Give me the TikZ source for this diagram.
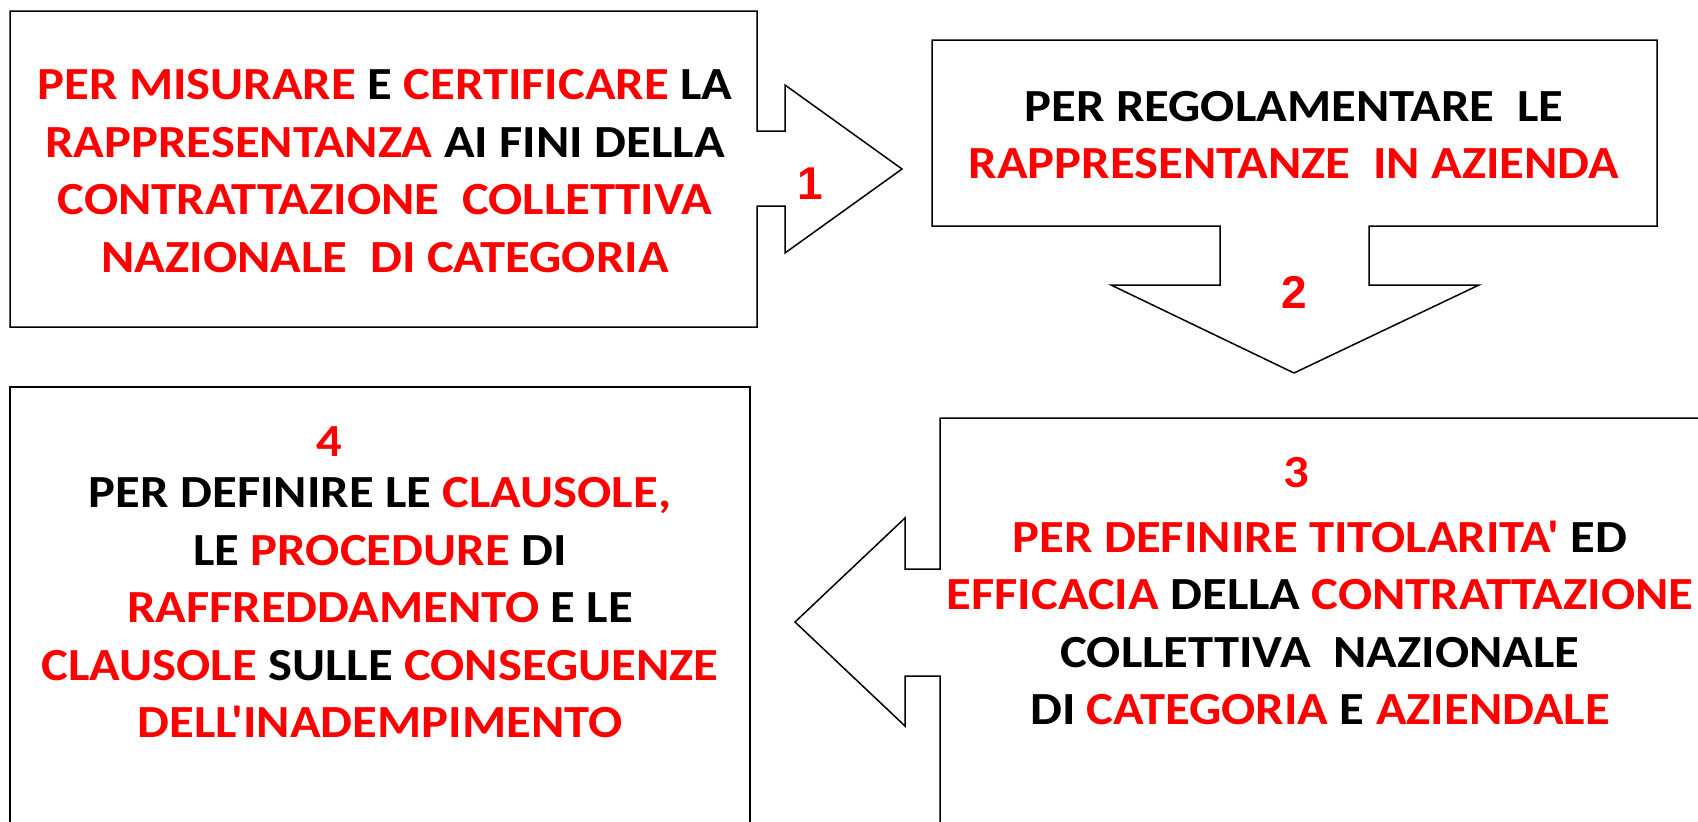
\documentclass[tikz,border=0pt]{standalone}
\usepackage{fontspec}
\setmainfont[FakeStretch=1.1, Ligatures=TeXOff]{Carlito}
\newfontfamily\numfont{Liberation Sans}
\definecolor{rosso}{RGB}{255,0,0}
\newcommand\rs[1]{\textcolor{rosso}{#1}}

\begin{document}
\begin{tikzpicture}[x=1pt,y=-1pt]
\tikzset{
  cornice/.style={draw=black, line width=1.5pt, line join=miter, fill=white},
  testo/.style={align=center, inner sep=0pt, font=\fontsize{46}{57.5}\selectfont\bfseries},
  numero/.style={text=rosso, inner sep=0pt, font=\numfont\fontsize{46}{46}\selectfont\bfseries},
  cifra/.style={text=rosso, inner sep=0pt, font=\fontsize{46}{46}\selectfont\bfseries},
}
\useasboundingbox (0,0) rectangle (1698,822);

% riquadro 1, freccia verso destra
\draw[cornice] (10,11) -- (757,11) -- (757,131) -- (785,131) -- (785,85) -- (902,169)
  -- (785,253) -- (785,206) -- (757,206) -- (757,327) -- (10,327) -- cycle;
% riquadro 2, freccia verso il basso
\draw[cornice] (932,40) -- (1657,40) -- (1657,226) -- (1369,226) -- (1369,285) -- (1479,285)
  -- (1294,373) -- (1111,285) -- (1220,285) -- (1220,226) -- (932,226) -- cycle;
% riquadro 3, freccia verso sinistra (tagliato a destra e in basso)
\draw[cornice] (1710,418) -- (940,418) -- (940,569) -- (905,569) -- (905,518) -- (795,622)
  -- (905,726) -- (905,676) -- (940,676) -- (940,835);
% riquadro 4 (tagliato in basso)
\draw[cornice] (10,835) -- (10,387) -- (750,387) -- (750,835);

\node[testo] (t1) at (385,171) {\rs{PER MISURARE} E \rs{CERTIFICARE} LA\\
  \rs{RAPPRESENTANZA} AI FINI DELLA\\
  \rs{CONTRATTAZIONE~ COLLETTIVA}\\
  \rs{NAZIONALE~ DI CATEGORIA}};
\node[numero] (n1) at (810,184) {1};

\node[testo] (t2) at (1294,135) {PER REGOLAMENTARE~ LE\\
  \rs{RAPPRESENTANZE~ IN AZIENDA}};
\node[numero] (n2) at (1294,292) {2};

\node[cifra] (n3) at (1296,473) {3};
\node[testo] (t3) at (1320,623) {\rs{PER DEFINIRE TITOLARITA'} ED\\
  \rs{EFFICACIA} DELLA \rs{CONTRATTAZIONE}\\
  COLLETTIVA~ NAZIONALE\\
  DI \rs{CATEGORIA} E \rs{AZIENDALE}};

\node[cifra] (n4) at (329,442) {4};
\node[testo] (t4) at (380,608) {PER DEFINIRE LE \rs{CLAUSOLE,}\\
  LE \rs{PROCEDURE} DI\\
  \rs{RAFFREDDAMENTO} E LE\\
  \rs{CLAUSOLE} SULLE \rs{CONSEGUENZE}\\
  \rs{DELL'INADEMPIMENTO}};

\end{tikzpicture}
\end{document}
